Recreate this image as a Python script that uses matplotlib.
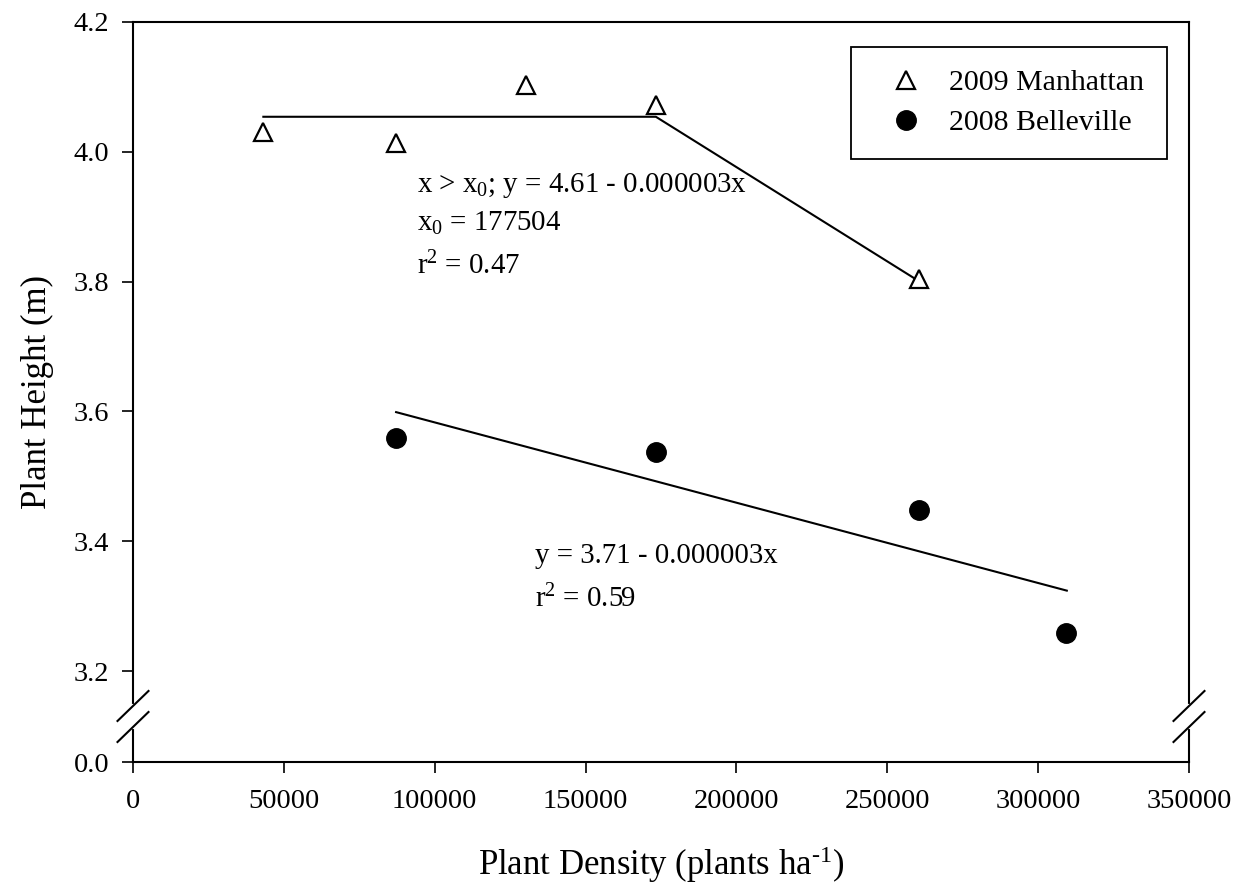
import numpy as np
import matplotlib
matplotlib.use("Agg")
import matplotlib.pyplot as plt
from matplotlib.lines import Line2D

# ---- data ----
manhattan_x = [43200, 87200, 130300, 173300, 260400]
manhattan_y = [4.031, 4.013, 4.103, 4.072, 3.804]
belleville_x = [87200, 173300, 260400, 309300]
belleville_y = [3.559, 3.538, 3.448, 3.258]
# fitted lines
manhattan_fit_x = [43200, 173300, 260400]
manhattan_fit_y = [4.054, 4.054, 3.801]
belleville_fit_x = [87200, 309500]
belleville_fit_y = [3.599, 3.324]

x_ticks = [0, 50000, 100000, 150000, 200000, 250000, 300000, 350000]
y_ticks = [0.0, 3.2, 3.4, 3.6, 3.8, 4.0, 4.2]
y_tick_labels = ["0.0", "3.2", "3.4", "3.6", "3.8", "4.0", "4.2"]

plt.rcParams['font.family'] = ['Liberation Serif', 'DejaVu Serif']
plt.rcParams['mathtext.fontset'] = 'custom'
plt.rcParams['mathtext.rm'] = 'Liberation Serif'
plt.rcParams['mathtext.it'] = 'Liberation Serif:italic'
plt.rcParams['mathtext.default'] = 'rm'

fig = plt.figure(figsize=(12.44, 8.92), dpi=100)
ax = fig.add_axes([133/1244, (892-762)/892, (1189-133)/1244, (762-22)/892])

# broken y axis via piecewise-linear scale
BRK = 3.1
LOW = 3.06
def fwd(y):
    y = np.asarray(y, dtype=float)
    return np.where(y >= BRK, y, LOW + y * (BRK - LOW) / BRK)
def inv(v):
    v = np.asarray(v, dtype=float)
    return np.where(v >= BRK, v, (v - LOW) * BRK / (BRK - LOW))
ax.set_yscale('function', functions=(fwd, inv))

lw_spine = 1.5
for s in ax.spines.values():
    s.set_linewidth(lw_spine)
    s.set_color('black')

ax.plot(manhattan_fit_x, manhattan_fit_y, color='black', lw=1.5, zorder=2)
ax.plot(belleville_fit_x, belleville_fit_y, color='black', lw=1.5, zorder=2)
ax.plot(manhattan_x, manhattan_y, linestyle='none', marker='^', ms=12.5,
        mfc='white', mec='black', mew=1.6, label='2009 Manhattan', zorder=3)
ax.plot(belleville_x, belleville_y, linestyle='none', marker='o', ms=14,
        mfc='black', mec='black', label='2008 Belleville', zorder=3)

ax.set_xlim(0, 350000)
ax.set_ylim(0.0, 4.2)
ax.set_xticks(x_ticks)
ax.set_xticklabels([str(v) for v in x_ticks])
ax.set_yticks(y_ticks)
ax.set_yticklabels(y_tick_labels)
ax.minorticks_off()
ax.tick_params(axis='both', direction='out', length=8, width=1.2, labelsize=20.5, colors='black')
ax.tick_params(axis='y', pad=9)
ax.tick_params(axis='x', pad=11.5)

ax.set_xlabel('Plant Density (plants ha$^{\u2010\\mathregular{1}}$)', fontsize=25, labelpad=22)
ax.set_ylabel('Plant Height (m)', fontsize=25, labelpad=14)

# break marks
dx, dy = 15.5/1056, 15/740
for xa in (0.0, 1.0):
    # gap in spine
    ax.add_line(Line2D([xa, xa], [0.0473, 0.0757], transform=ax.transAxes,
                       color='white', lw=3, clip_on=False, zorder=5))
    for yc in (0.0757, 0.0473):
        ax.add_line(Line2D([xa - dx, xa + dx], [yc - dy, yc + dy], transform=ax.transAxes,
                           color='black', lw=1.5, clip_on=False, zorder=6))

# annotations
def py2y(py):
    return 4.2 - (py - 22) * 0.2 / 129.8
def px2x(px):
    return (px - 133) / 150.8 * 50000

tfs = 20.8
ax.text(px2x(417), py2y(192), 'x > x$_0$; y = 4.61 - 0.000003x', fontsize=tfs, va='baseline')
ax.text(px2x(417), py2y(231), 'x$_0$ = 177504', fontsize=tfs, va='baseline')
ax.text(px2x(417), py2y(274), 'r$^2$ = 0.47', fontsize=tfs, va='baseline')
ax.text(px2x(535), py2y(563), 'y = 3.71 - 0.000003x', fontsize=tfs, va='baseline')
ax.text(px2x(535), py2y(607), 'r$^2$ = 0.59', fontsize=tfs, va='baseline')

leg = ax.legend(loc='upper right', bbox_to_anchor=((1166.7-133)/1056, (762-46.7)/740),
                borderaxespad=0, fontsize=21.5, frameon=True, fancybox=False,
                edgecolor='black', framealpha=1, borderpad=0.75, handlelength=2.18,
                handletextpad=0.35, labelspacing=0.45)
leg.get_frame().set_linewidth(1.3)

fig.savefig('out.png', dpi=100)
